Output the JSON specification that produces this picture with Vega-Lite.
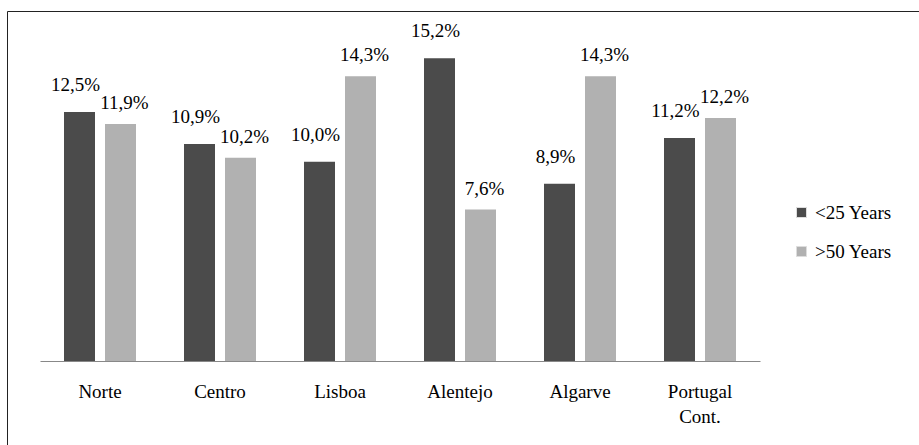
{
  "$schema": "https://vega.github.io/schema/vega-lite/v6.json",
  "width": 913,
  "height": 435,
  "autosize": {"type": "none"},
  "padding": {"left": 7, "top": 11, "right": 0, "bottom": 0},
  "config": {
    "locale": {"number": {"decimal": ",", "thousands": ".", "grouping": [3], "currency": ["", "€"]}},
    "view": {"stroke": "#222222", "strokeWidth": 1},
    "font": "Liberation Serif"
  },
  "data": {
    "values": [
      {"region": "Norte", "group": "<25 Years", "value": 0.125},
      {"region": "Norte", "group": ">50 Years", "value": 0.119},
      {"region": "Centro", "group": "<25 Years", "value": 0.109},
      {"region": "Centro", "group": ">50 Years", "value": 0.102},
      {"region": "Lisboa", "group": "<25 Years", "value": 0.100},
      {"region": "Lisboa", "group": ">50 Years", "value": 0.143},
      {"region": "Alentejo", "group": "<25 Years", "value": 0.152},
      {"region": "Alentejo", "group": ">50 Years", "value": 0.076},
      {"region": "Algarve", "group": "<25 Years", "value": 0.089},
      {"region": "Algarve", "group": ">50 Years", "value": 0.143},
      {"region": "Portugal Cont.", "group": "<25 Years", "value": 0.112},
      {"region": "Portugal Cont.", "group": ">50 Years", "value": 0.122}
    ]
  },
  "encoding": {
    "x": {
      "field": "region",
      "type": "nominal",
      "sort": null,
      "scale": {"range": [33, 753], "paddingInner": 0.4, "paddingOuter": 0.2},
      "axis": {
        "title": null,
        "orient": "bottom",
        "offset": -85,
        "ticks": false,
        "domainColor": "#888888",
        "domainWidth": 1.2,
        "labelFont": "Liberation Serif",
        "labelFontSize": 19,
        "labelColor": "#000000",
        "labelPadding": 21,
        "labelAngle": 0,
        "labelLineHeight": 25,
        "labelExpr": "datum.label == 'Portugal Cont.' ? ['Portugal', 'Cont.'] : datum.label"
      }
    },
    "xOffset": {
      "field": "group",
      "type": "nominal",
      "sort": ["<25 Years", ">50 Years"],
      "scale": {"paddingInner": 0.244, "paddingOuter": 0}
    },
    "y": {
      "field": "value",
      "type": "quantitative",
      "scale": {"domain": [0, 0.16], "range": [350, 31.3], "nice": false, "zero": true},
      "axis": null
    }
  },
  "layer": [
    {
      "mark": {"type": "bar"},
      "encoding": {
        "color": {
          "field": "group",
          "type": "nominal",
          "sort": ["<25 Years", ">50 Years"],
          "scale": {"domain": ["<25 Years", ">50 Years"], "range": ["#4b4b4b", "#b1b1b1"]},
          "legend": {
            "title": null,
            "orient": "none",
            "legendX": 785,
            "legendY": 192,
            "symbolType": "square",
            "symbolSize": 100,
            "symbolStrokeColor": "#dddddd",
            "symbolStrokeWidth": 1,
            "symbolOpacity": 1,
            "labelFont": "Liberation Serif",
            "labelFontSize": 19,
            "labelColor": "#000000",
            "labelOffset": 4,
            "rowPadding": 19
          }
        }
      }
    },
    {
      "transform": [{"filter": "datum.group == '<25 Years'"}],
      "mark": {"type": "text", "baseline": "alphabetic", "dy": -21, "dx": -4, "font": "Liberation Serif", "fontSize": 19, "color": "#000000"},
      "encoding": {
        "text": {"field": "value", "type": "quantitative", "format": ".1%"}
      }
    },
    {
      "transform": [{"filter": "datum.group == '>50 Years'"}],
      "mark": {"type": "text", "baseline": "alphabetic", "dy": -15, "dx": 4, "font": "Liberation Serif", "fontSize": 19, "color": "#000000"},
      "encoding": {
        "text": {"field": "value", "type": "quantitative", "format": ".1%"}
      }
    }
  ]
}
